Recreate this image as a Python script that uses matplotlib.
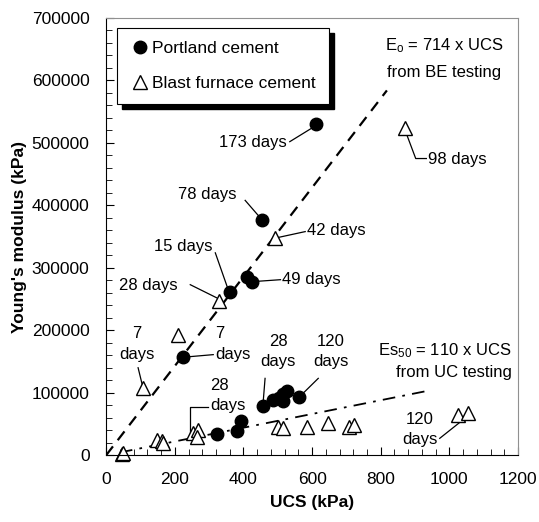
import matplotlib
matplotlib.use("Agg")
import matplotlib.pyplot as plt
from matplotlib.patches import Rectangle
from matplotlib.ticker import MultipleLocator

plt.rcParams["font.family"] = ["Liberation Sans", "DejaVu Sans"]
plt.rcParams["mathtext.default"] = "regular"

# Portland cement (UCS kPa, E kPa)
pc_ucs = [611, 454, 361, 411, 425, 224, 322, 382, 392, 458, 487, 505, 516, 515, 526, 562]
pc_e = [530000, 377000, 262000, 285000, 278000, 157000, 34000, 38000, 55000,
        78000, 88000, 92000, 86000, 98000, 103000, 93000]

# Blast furnace cement
bf_ucs = [872, 492, 330, 210, 108, 45, 50, 148, 162, 167, 254, 268, 266,
          502, 516, 586, 646, 708, 722, 1026, 1055]
bf_e = [524000, 348000, 247000, 193000, 107000, 2000, 3000, 25000, 23000, 19000,
        35000, 40000, 29000, 45000, 43000, 45000, 51000, 45000, 49000, 64000, 67000]

# correlation lines
be_slope, be_x = 714, [0, 818]
uc_slope, uc_x = 110, [40, 940]

# labels: text, text x, text y, alignment, leader path (x list, y list)
labels = [
    ("173 days", 428, 500000, "center", [535, 606], [502000, 526000]),
    ("78 days", 294, 417000, "center", [405, 446], [408000, 382000]),
    ("15 days", 225, 334000, "center", [318, 355], [324000, 266000]),
    ("28 days", 123, 271000, "center", [245, 322], [273000, 252000]),
    ("49 days", 513, 281000, "left", [430, 508], [278000, 281000]),
    ("42 days", 585, 359000, "left", [496, 580], [348000, 358000]),
    ("98 days", 938, 474000, "left", [874, 902, 933], [516000, 475000, 475000]),
    ("7\ndays", 90, 178000, "center", [93, 105], [140000, 113000]),
    ("7\ndays", 317, 178000, "left", [228, 312], [157000, 161000]),
    ("28\ndays", 303, 96000, "left", [297, 245, 245], [77000, 77000, 30000]),
    ("28\ndays", 501, 166000, "center", [463, 457], [123000, 82000]),
    ("120\ndays", 655, 166000, "center", [618, 568], [123000, 96000]),
    ("120\ndays", 915, 41000, "center", [972, 1043], [27000, 58000]),
]

fig = plt.figure(figsize=(5.39, 5.22), dpi=100)
ax = fig.add_axes([0.197, 0.128, 0.764, 0.8375])

ax.plot(be_x, [be_slope * x for x in be_x], color="black", lw=1.6, dashes=(5, 3.5))
ax.plot(uc_x, [uc_slope * x for x in uc_x], color="black", lw=1.3, dashes=(7, 4, 1.5, 4))

for text, tx, ty, ha, lx, ly in labels:
    ax.plot(lx, ly, color="black", lw=0.9)
    ax.text(tx, ty, text, ha=ha, va="center", fontsize=12, linespacing=1.45)

ax.plot(pc_ucs, pc_e, "o", color="black", ms=9, label="Portland cement", clip_on=False)
ax.plot(bf_ucs, bf_e, "^", mfc="white", mec="black", mew=1.0, ms=10,
        label="Blast furnace cement", clip_on=False)

ax.text(985, 655000, r"E$_o$ = 714 x UCS", ha="center", va="center", fontsize=12)
ax.text(985, 612000, "from BE testing", ha="center", va="center", fontsize=12)
ax.text(1182, 168000, r"Es$_{50}$ = 110 x UCS", ha="right", va="center", fontsize=12)
ax.text(1182, 133000, "from UC testing", ha="right", va="center", fontsize=12)

ax.set_xlim(0, 1200)
ax.set_ylim(0, 700000)
ax.xaxis.set_major_locator(MultipleLocator(200))
ax.xaxis.set_minor_locator(MultipleLocator(40))
ax.yaxis.set_major_locator(MultipleLocator(100000))
ax.yaxis.set_minor_locator(MultipleLocator(20000))
ax.tick_params(which="both", direction="in", labelsize=12.5)
ax.tick_params(which="major", length=6)
ax.tick_params(which="minor", length=4)
ax.tick_params(axis="x", pad=12)
ax.tick_params(axis="y", pad=12)
ax.set_xlabel("UCS (kPa)", fontsize=12.5, fontweight="bold", labelpad=6)
ax.set_ylabel("Young's modulus (kPa)", fontsize=12.5, fontweight="bold", labelpad=3)
for side in ("top", "right"):
    ax.spines[side].set_color("#909090")

leg = ax.legend(loc="upper left", bbox_to_anchor=(0.026, 0.977), fontsize=12.5,
                frameon=True, fancybox=False, edgecolor="black", framealpha=1,
                handletextpad=0.1, handlelength=1.2, labelspacing=1.15,
                borderpad=0.75, borderaxespad=0)
leg.get_frame().set_linewidth(0.8)
leg.set_zorder(10)

# solid black drop shadow behind the legend box (offset right and down)
fig.canvas.draw()
bb = leg.get_frame().get_window_extent().transformed(ax.transAxes.inverted())
dx, dy = 5 / ax.bbox.width, 5 / ax.bbox.height
ax.add_patch(Rectangle((bb.x0 + dx, bb.y0 - dy), bb.width, bb.height,
                       transform=ax.transAxes, facecolor="black", edgecolor="black",
                       zorder=9))

fig.savefig("out.png", dpi=100)
